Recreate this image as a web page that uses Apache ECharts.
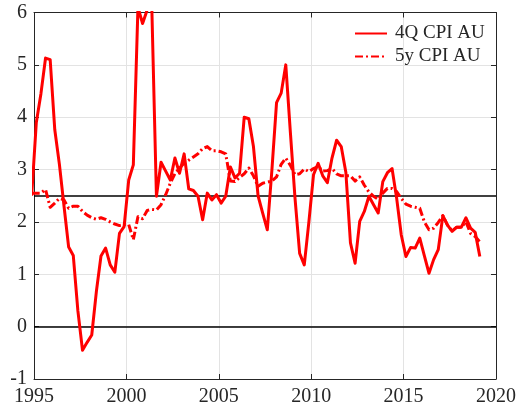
<!DOCTYPE html>
<html>
<head>
<meta charset="utf-8">
<script src="https://cdn.jsdelivr.net/npm/echarts@6/dist/echarts.min.js"></script>
<style>
html,body{margin:0;padding:0;background:#fff;}
#chart{width:519px;height:411px;}
</style>
</head>
<body>
<div id="chart"></div>
<script>
// Quarterly observations, first one is 1994 Q4 (mid-quarter dating)
const firstQuarter = 1994.875;
const quarterStep = 0.25;

const cpi4Q = [
  2.5, 3.9, 4.45, 5.13, 5.1, 3.76, 3.1, 2.3, 1.52, 1.36,
  0.3, -0.45, -0.3, -0.16, 0.67, 1.35, 1.5, 1.18, 1.04, 1.78,
  1.91, 2.8, 3.09, 6.1, 5.79, 6.05, 6.1, 2.49, 3.14, 2.97,
  2.8, 3.22, 2.93, 3.3, 2.63, 2.6, 2.49, 2.04, 2.55, 2.42,
  2.52, 2.36, 2.49, 3.05, 2.84, 2.93, 4.0, 3.97, 3.44, 2.5,
  2.17, 1.85, 3.0, 4.28, 4.46, 5.0, 3.7, 2.45, 1.4, 1.18,
  2.0, 2.9, 3.12, 2.88, 2.75, 3.22, 3.56, 3.44, 2.95, 1.6,
  1.21, 2.01, 2.2, 2.49, 2.33, 2.17, 2.77, 2.94, 3.02, 2.45,
  1.75, 1.34, 1.51, 1.5, 1.69, 1.35, 1.02, 1.28, 1.47, 2.12,
  1.94, 1.82, 1.9, 1.9, 2.08, 1.88, 1.8, 1.34
];

const cpi5y = [
  2.55, 2.55, 2.55, 2.62, 2.28, 2.36, 2.45, 2.42, 2.26, 2.3,
  2.3, 2.2, 2.13, 2.08, 2.05, 2.08, 2.05, 2.0, 1.96, 1.93,
  1.95, 1.95, 1.66, 2.1, 2.06, 2.22, 2.24, 2.23, 2.33, 2.52,
  2.74, 2.92, 3.03, 3.12, 3.18, 3.24, 3.3, 3.4, 3.44, 3.36,
  3.36, 3.34, 3.3, 2.78, 2.77, 2.85, 2.92, 3.03, 2.88, 2.68,
  2.74, 2.76, 2.78, 2.86, 3.1, 3.22, 3.08, 2.9, 2.92, 3.01,
  2.96, 3.02, 3.06, 2.97, 2.98, 3.02, 2.92, 2.88, 2.88, 2.88,
  2.78, 2.86, 2.7, 2.57, 2.49, 2.43, 2.55, 2.64, 2.64, 2.58,
  2.45, 2.34, 2.3, 2.28, 2.26, 2.0, 1.85, 1.88, 1.99, 2.12,
  1.94, 1.83, 1.9, 1.9, 2.0, 1.78, 1.72, 1.62
];

const seriesNames = ['4Q CPI AU', '5y CPI AU'];
const referenceLevels = [2.5, 0];
const xTicks = [1995, 2000, 2005, 2010, 2015, 2020];
const yTicks = [-1, 0, 1, 2, 3, 4, 5, 6];

const toPairs = arr => arr.map((v, i) => [firstQuarter + i * quarterStep, v]);

const FONT = 'Liberation Serif';
const TXT = '#262626';
const AX = '#262626';

const chart = echarts.init(document.getElementById('chart'), null, {renderer: 'canvas'});

const commonX = {
  type: 'value',
  min: xTicks[0], max: xTicks[xTicks.length - 1], interval: 5,
  axisLine: {show: true, onZero: false, lineStyle: {color: AX, width: 1}},
  axisTick: {show: true, inside: true, length: 5, lineStyle: {color: AX, width: 1}},
};
const commonY = {
  type: 'value',
  min: yTicks[0], max: yTicks[yTicks.length - 1], interval: 1,
  axisLine: {show: true, onZero: false, lineStyle: {color: AX, width: 1}},
  axisTick: {show: true, inside: true, length: 5, lineStyle: {color: AX, width: 1}},
};

chart.setOption({
  animation: false,
  backgroundColor: '#ffffff',
  grid: {left: 34, right: 21, top: 12.5, bottom: 32, containLabel: false},
  legend: {
    orient: 'vertical',
    left: 354, top: 24,
    padding: 0,
    itemWidth: 32, itemHeight: 14, itemGap: 4,
    textStyle: {fontFamily: FONT, fontSize: 19, color: TXT, padding: [0, 0, 0, 3]},
    data: seriesNames
  },
  xAxis: [
    Object.assign({}, commonX, {
      position: 'bottom',
      axisLabel: {show: true, margin: 8, fontFamily: FONT, fontSize: 20, color: TXT,
        formatter: v => String(v)},
      splitLine: {show: true, lineStyle: {color: '#e3e3e3', width: 1}}
    }),
    Object.assign({}, commonX, {
      position: 'top',
      axisLabel: {show: false},
      splitLine: {show: false}
    })
  ],
  yAxis: [
    Object.assign({}, commonY, {
      position: 'left',
      axisLabel: {show: true, margin: 7, fontFamily: FONT, fontSize: 20, color: TXT},
      splitLine: {show: true, lineStyle: {color: '#e3e3e3', width: 1}}
    }),
    Object.assign({}, commonY, {
      position: 'right',
      axisLabel: {show: false},
      splitLine: {show: false}
    })
  ],
  series: [
    {
      name: seriesNames[0],
      type: 'line',
      xAxisIndex: 0, yAxisIndex: 0,
      data: toPairs(cpi4Q),
      symbol: 'none',
      clip: true,
      z: 4,
      lineStyle: {color: '#ff0000', width: 3, type: 'solid', join: 'round'},
      itemStyle: {color: 'rgba(255,0,0,0)'},
      markLine: {
        silent: true,
        symbol: 'none',
        label: {show: false},
        z: 3,
        lineStyle: {color: '#000000', width: 1.6, type: 'solid'},
        data: referenceLevels.map(v => ({yAxis: v}))
      }
    },
    {
      name: seriesNames[1],
      type: 'line',
      xAxisIndex: 0, yAxisIndex: 0,
      data: toPairs(cpi5y),
      symbol: 'none',
      clip: true,
      z: 5,
      lineStyle: {color: '#ff0000', width: 3, type: [8, 3, 2, 3], join: 'round'},
      itemStyle: {color: 'rgba(255,0,0,0)'}
    }
  ]
});
</script>
</body>
</html>
